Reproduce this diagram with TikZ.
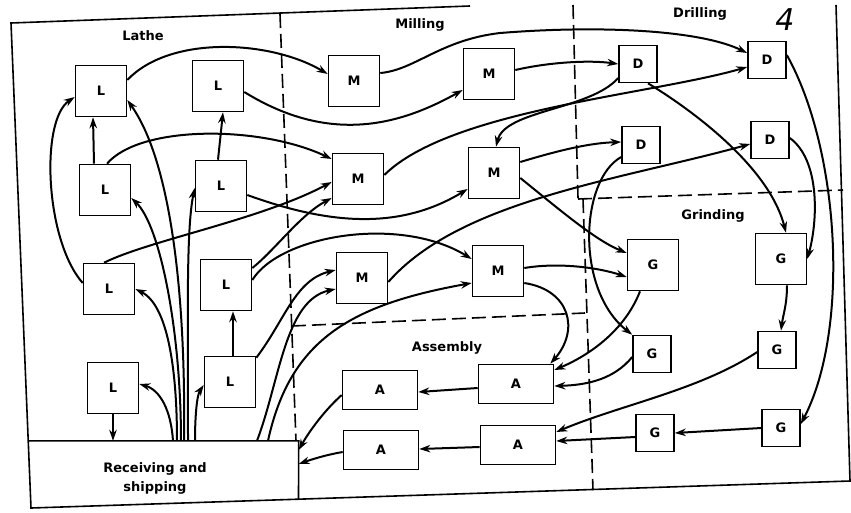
\documentclass[tikz,border=0pt]{standalone}
\usepackage{fontspec}
\setmainfont{DejaVu Sans}
\usetikzlibrary{arrows.meta}
\begin{document}
\begin{tikzpicture}[x=1pt,y=-1pt,
  every node/.style={font=\fontsize{13}{19}\selectfont\bfseries},
  box/.style={draw, line width=1.6pt, inner sep=0pt},
  bigbox/.style={box, minimum width=51pt, minimum height=51pt},
  smallbox/.style={box, minimum width=38pt, minimum height=37pt},
  abox/.style={box, minimum width=75pt, minimum height=39pt},
  flow/.style={line width=2pt, -{Stealth[length=11pt,width=7.5pt]}},
  zone/.style={line width=1.6pt, dash pattern=on 14pt off 6pt},
  frameline/.style={line width=1.6pt}
]
\useasboundingbox (0,0) rectangle (851,512);

% frame
\draw[frameline] (470,6) -- (11,23) -- (31,508) -- (850,481) -- (836,5);

% zone boundaries
\draw[zone] (280,14) -- (296,441);
\draw[zone] (292,326) -- (585,313);
\draw[zone] (573,5) -- (578,198);
\draw[zone] (578,199) -- (843,190);
\draw[zone] (583,199) -- (593,490);

% zone labels
\node (tLathe) at (143,36) {Lathe};
\node (tMill) at (420,25) {Milling};
\node (tDrill) at (700,14) {Drilling};
\node (tGrind) at (713,216) {Grinding};
\node (tAssy) at (447,348) {Assembly};
\node (tHand) at (785,20) {\fontsize{30}{30}\selectfont\mdseries\itshape 4};

% receiving and shipping
\node[minimum width=270pt, minimum height=66pt, inner sep=0pt] (R) at (163.5,474) {};
\draw[frameline] (R.north west) -- (R.north east) -- (298.5,499);
\node[align=center] (Rlabel) at (155,478) {Receiving and\\shipping};

% lathe
\node[bigbox] (L1) at (101,91) {L};
\node[bigbox] (L2) at (218,86) {L};
\node[bigbox] (L3) at (105,190) {L};
\node[bigbox] (L4) at (221,186) {L};
\node[bigbox] (L5) at (109,289) {L};
\node[bigbox] (L6) at (226,285) {L};
\node[bigbox] (L7) at (113,388) {L};
\node[bigbox] (L8) at (230,382) {L};
% milling
\node[bigbox] (M1) at (354,81) {M};
\node[bigbox] (M2) at (489,74) {M};
\node[bigbox] (M3) at (358,179) {M};
\node[bigbox] (M4) at (494,173) {M};
\node[bigbox] (M5) at (362,278) {M};
\node[bigbox] (M6) at (498,271) {M};
% drilling
\node[smallbox] (D1) at (638,64) {D};
\node[smallbox] (D2) at (767,60) {D};
\node[smallbox] (D3) at (641,145) {D};
\node[smallbox] (D4) at (770,140) {D};
% grinding
\node[bigbox] (G1) at (653,265) {G};
\node[bigbox] (G2) at (781,259) {G};
\node[smallbox] (G3) at (652,354) {G};
\node[smallbox] (G4) at (777,350) {G};
\node[smallbox] (G5) at (655,433) {G};
\node[smallbox] (G6) at (781,428) {G};
% assembly
\node[abox] (A1) at (380,390) {A};
\node[abox] (A2) at (516,384) {A};
\node[abox] (A3) at (381,450) {A};
\node[abox] (A4) at (518,445) {A};

% receiving fan
\draw[flow] (L7.south) -- (L7.south |- R.north);
\draw[flow] ([xshift=9.5pt]R.north) .. controls (171,410) and (160,390) .. ([yshift=4pt]L7.east);
\draw[flow] ([xshift=13.5pt]R.north) .. controls (177,370) and (168,305) .. (L5.east);
\draw[flow] ([xshift=17.5pt]R.north) .. controls (181,330) and (160,225) .. ([yshift=-8pt]L3.east);
\draw[flow] ([xshift=20.5pt]R.north) .. controls (186,290) and (170,160) .. ([yshift=-9pt]L1.east);
\draw[flow] ([xshift=24.5pt]R.north) .. controls (188,320) and (186,230) .. ([yshift=-2pt]L4.west);
\draw[flow] ([xshift=31.5pt]R.north) .. controls (195,415) and (197,395) .. ([yshift=-3pt]L8.west);

% within lathe
\draw[flow] ([xshift=-11pt]L3.north) -- ([xshift=-8pt]L1.south);
\draw[flow] ([xshift=-3pt]L4.north) -- ([xshift=5pt]L2.south);
\draw[flow] ([xshift=3pt]L8.north) -- ([xshift=7pt]L6.south);
\draw[flow] ([yshift=6pt]L5.west) .. controls (45,240) and (40,120) .. ([yshift=-6pt]L1.west);

% lathe to milling
\draw[flow] ([yshift=11pt]L1.east) .. controls (170,35) and (270,40) .. ([yshift=7pt]M1.west);
\draw[flow] ([yshift=-6pt]L2.east) .. controls (330,145) and (400,125) .. ([yshift=-16pt]M2.west);
\draw[flow] ([xshift=2pt]L3.north) .. controls (140,125) and (260,125) .. ([yshift=20pt]M3.west);
\draw[flow] ([yshift=-9pt]L4.east) .. controls (330,225) and (400,230) .. ([yshift=-16pt]M4.west);
\draw[flow] ([xshift=-5pt]L5.north) .. controls (150,240) and (260,220) .. ([yshift=-3pt]M3.west);
\draw[flow] ([yshift=17pt]L6.east) .. controls (275,250) and (300,215) .. ([yshift=-19pt]M3.west);
\draw[flow] ([yshift=5pt]L6.east) .. controls (280,235) and (400,215) .. ([yshift=12pt]M6.west);
\draw[flow] ([yshift=-2pt]L8.north east) .. controls (285,320) and (295,280) .. ([yshift=8pt]M5.west);
\draw[flow] ([xshift=93.5pt]R.north) .. controls (280,380) and (285,300) .. ([yshift=-11pt]M5.west);
\draw[flow] ([xshift=104.5pt]R.north) .. controls (290,340) and (350,305) .. ([yshift=-12pt]M6.west);

% milling to drilling
\draw[flow] ([yshift=-4pt]M5.east) .. controls (460,200) and (620,180) .. ([yshift=-4pt]D4.west);
\draw[flow] ([yshift=8pt]M1.east) .. controls (415,70) and (440,40) .. (500,33) .. controls (600,25) and (700,30) .. ([yshift=7pt]D2.west);
\draw[flow] ([yshift=4pt]M2.east) .. controls (550,62) and (590,60) .. (D1.west);
\draw[flow] ([yshift=4pt]M3.east) .. controls (450,110) and (650,95) .. ([yshift=-7pt]D2.west);
\draw[flow] ([yshift=11pt]M4.east) .. controls (560,150) and (590,143) .. ([yshift=3pt]D3.west);
\draw[flow] ([yshift=-5pt]M4.east) .. controls (560,210) and (595,240) .. ([yshift=12pt]G1.west);
\draw[flow] ([yshift=-14pt]D1.west) .. controls (590,110) and (505,110) .. ([xshift=2pt]M4.north);

% drilling to grinding
\draw[flow] ([xshift=10pt]D1.south) .. controls (700,115) and (770,170) .. ([xshift=5pt]G2.north);
\draw[flow] ([yshift=2pt]D4.east) .. controls (820,160) and (818,220) .. (G2.east);
\draw[flow] ([yshift=5pt]D2.east) .. controls (840,150) and (850,330) .. ([yshift=4pt]G6.east);
\draw[flow] ([yshift=-12pt]D3.west) .. controls (580,180) and (575,290) .. (G3.north west);

% grinding
\draw[flow] ([xshift=6pt]G2.south) .. controls (787,305) and (783,315) .. ([xshift=4pt]G4.north);
\draw[flow] (G6.west) -- (G5.east);

% to assembly
\draw[flow] ([yshift=-2pt]G4.west) .. controls (700,390) and (620,405) .. ([yshift=13pt]A4.east);
\draw[flow] ([yshift=-4pt]G5.west) -- ([yshift=4pt]A4.east);
\draw[flow] ([yshift=3pt]M6.east) .. controls (560,262) and (600,268) .. ([yshift=-12pt]G1.west);
\draw[flow] ([yshift=-12pt]M6.east) .. controls (570,290) and (580,330) .. ([xshift=-4pt]A2.north east);
\draw[flow] ([xshift=-13pt]G1.south) .. controls (625,330) and (590,355) .. ([yshift=14pt]A2.east);
\draw[flow] ([yshift=-3pt]G3.west) .. controls (615,378) and (590,385) .. ([yshift=-2pt]A2.east);

% assembly
\draw[flow] ([yshift=-4pt]A2.west) -- ([yshift=-2pt]A1.east);
\draw[flow] ([yshift=-2pt]A4.west) -- ([yshift=1pt]A3.east);
\draw[flow] ([yshift=-5pt]A1.west) .. controls (325,410) and (310,430) .. ([yshift=24pt]R.east);
\draw[flow] ([yshift=-2pt]A3.west) .. controls (325,455) and (310,460) .. ([yshift=10pt]R.east);
\end{tikzpicture}
\end{document}
